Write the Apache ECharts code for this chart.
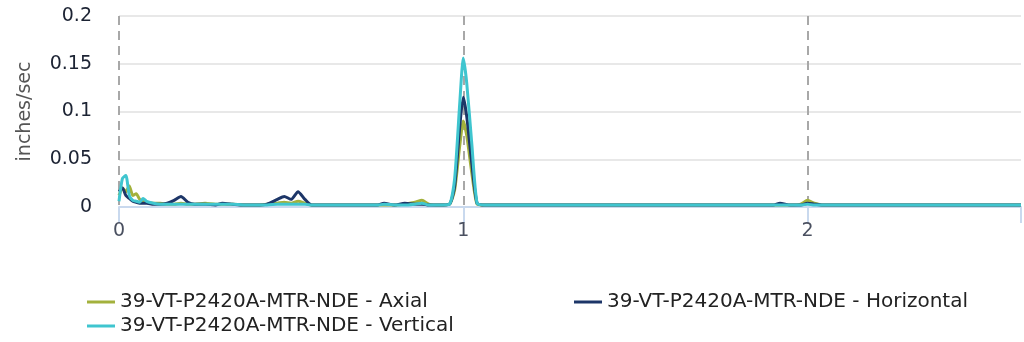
<!DOCTYPE html>
<html><head><meta charset="utf-8">
<script src="https://cdn.jsdelivr.net/npm/echarts@6/dist/echarts.min.js"></script>
<style>html,body{margin:0;padding:0;background:#fff}#c{width:1024px;height:342px}</style>
</head><body><div id="c"></div>
<script>
const seriesNames = ['39-VT-P2420A-MTR-NDE - Axial', '39-VT-P2420A-MTR-NDE - Horizontal', '39-VT-P2420A-MTR-NDE - Vertical'];
const xTicks = [0, 1, 2];
const yTicks = [0, 0.05, 0.1, 0.15, 0.2];
const freq = [
  0, 0.01, 0.02, 0.03, 0.04, 0.05, 0.06, 0.07, 0.08, 0.1,
  0.12, 0.14, 0.16, 0.18, 0.2, 0.22, 0.25, 0.28, 0.3, 0.33,
  0.36, 0.4, 0.43, 0.46, 0.48, 0.5, 0.52, 0.54, 0.56, 0.6,
  0.65, 0.7, 0.75, 0.77, 0.8, 0.83, 0.86, 0.88, 0.9, 0.93,
  0.96, 0.975, 0.99, 1.0, 1.01, 1.025, 1.04, 1.06, 1.1, 1.2,
  1.3, 1.4, 1.5, 1.6, 1.7, 1.8, 1.9, 1.92, 1.95, 1.98,
  2.0, 2.02, 2.05, 2.1, 2.2, 2.3, 2.4, 2.5, 2.62
];
const axial = [
  0.012, 0.02, 0.016, 0.022, 0.012, 0.014, 0.008, 0.006, 0.005, 0.004,
  0.004, 0.003, 0.003, 0.004, 0.003, 0.003, 0.004, 0.003, 0.003, 0.003,
  0.002, 0.002, 0.003, 0.004, 0.005, 0.004, 0.006, 0.004, 0.002, 0.002,
  0.002, 0.002, 0.002, 0.002, 0.002, 0.003, 0.005, 0.007, 0.003, 0.002,
  0.003, 0.018, 0.065, 0.09, 0.075, 0.035, 0.003, 0.002, 0.002, 0.002,
  0.002, 0.002, 0.002, 0.002, 0.002, 0.002, 0.002, 0.002, 0.002, 0.003,
  0.007, 0.004, 0.002, 0.002, 0.002, 0.002, 0.002, 0.002, 0.002
];
const horizontal = [
  0.016, 0.02, 0.012, 0.009, 0.006, 0.005, 0.004, 0.004, 0.004, 0.003,
  0.003, 0.004, 0.007, 0.011, 0.005, 0.003, 0.003, 0.002, 0.004, 0.003,
  0.002, 0.002, 0.003, 0.008, 0.011, 0.008, 0.016, 0.008, 0.002, 0.002,
  0.002, 0.002, 0.002, 0.004, 0.002, 0.004, 0.003, 0.003, 0.002, 0.002,
  0.003, 0.022, 0.085, 0.115, 0.095, 0.045, 0.004, 0.002, 0.002, 0.002,
  0.002, 0.002, 0.002, 0.002, 0.002, 0.002, 0.002, 0.004, 0.002, 0.002,
  0.004, 0.003, 0.002, 0.002, 0.002, 0.002, 0.002, 0.002, 0.002
];
const vertical = [
  0.006, 0.03, 0.033, 0.012, 0.007, 0.006, 0.005, 0.009, 0.006, 0.004,
  0.003, 0.003, 0.003, 0.003, 0.003, 0.003, 0.003, 0.003, 0.003, 0.003,
  0.002, 0.002, 0.002, 0.003, 0.003, 0.003, 0.003, 0.003, 0.002, 0.002,
  0.002, 0.002, 0.002, 0.003, 0.002, 0.002, 0.003, 0.004, 0.002, 0.002,
  0.003, 0.03, 0.11, 0.156, 0.13, 0.065, 0.004, 0.002, 0.002, 0.002,
  0.002, 0.002, 0.002, 0.002, 0.002, 0.002, 0.002, 0.002, 0.002, 0.002,
  0.003, 0.002, 0.002, 0.002, 0.002, 0.002, 0.002, 0.002, 0.002
];
const colors = ['#a3b13c', '#1d3668', '#3fc5cf'];
const values = [axial, horizontal, vertical];
const FONT = 'DejaVu Sans';

const chart = echarts.init(document.getElementById('c'), null, {renderer: 'canvas'});
chart.setOption({
  animation: false,
  color: colors,
  grid: {left: 119, right: 3, top: 16, bottom: 135, containLabel: false},
  xAxis: {
    type: 'value', min: 0, max: 2.62, interval: 1,
    axisLine: {show: true, lineStyle: {color: '#c9d9ee', width: 2}},
    axisTick: {show: true, length: 16, lineStyle: {color: '#c9d9ee', width: 2}},
    axisLabel: {color: '#4a5060', fontFamily: FONT, fontSize: 19, margin: 15,
      formatter: v => xTicks.includes(v) ? String(v) : ''},
    splitLine: {show: true, showMaxLine: false, lineStyle: {color: '#a8a8a8', width: 2, type: [9, 6]}}
  },
  yAxis: {
    type: 'value', min: yTicks[0], max: yTicks[yTicks.length - 1], interval: 0.05,
    name: 'inches/sec', nameLocation: 'middle', nameGap: 84, nameRotate: 90,
    nameTextStyle: {color: '#555', fontFamily: FONT, fontSize: 19},
    axisLine: {show: false}, axisTick: {show: false},
    axisLabel: {color: '#1c2333', fontFamily: FONT, fontSize: 19, margin: 27},
    splitLine: {lineStyle: {color: '#e8e8e8', width: 2}}
  },
  legend: {
    left: 82, top: 287, width: 1000, itemWidth: 28, itemHeight: 3, itemGap: 4,
    icon: 'rect',
    textStyle: {color: '#222', fontFamily: FONT, fontSize: 20, width: 450, lineHeight: 20},
    data: seriesNames
  },
  series: seriesNames.map((n, i) => ({
    name: n, type: 'line', symbol: 'none', smooth: 0.2,
    lineStyle: {width: 3, color: colors[i]},
    data: freq.map((f, j) => [f, values[i][j]])
  }))
});
</script></body></html>
